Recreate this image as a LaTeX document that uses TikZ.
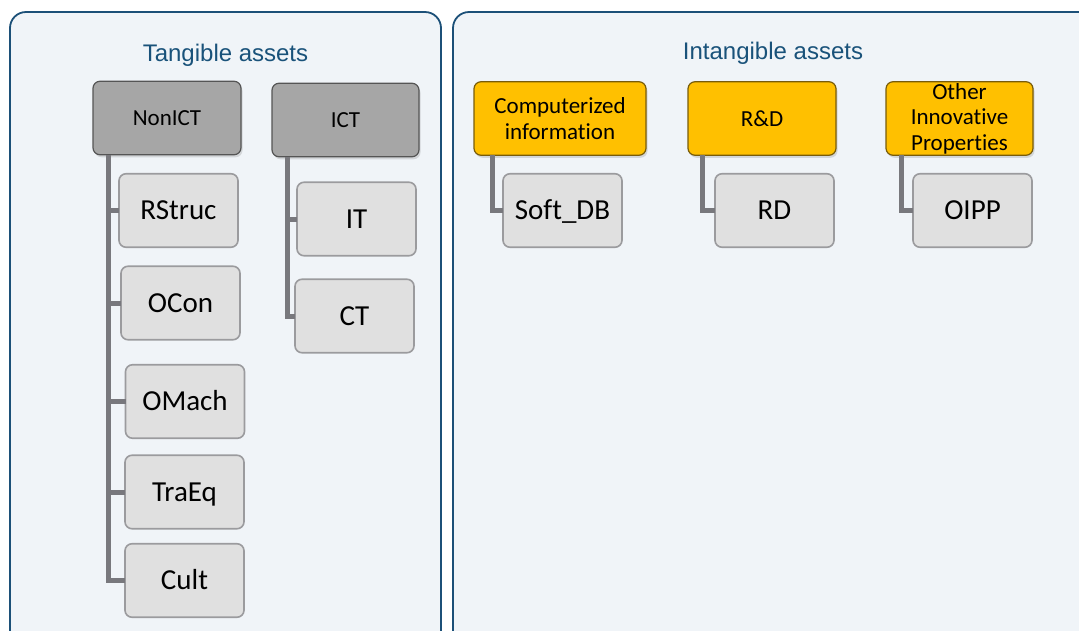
\documentclass[tikz,border=0pt]{standalone}
\usepackage{fontspec}
\setmainfont{Carlito}[Ligatures=NoCommon]
\newfontfamily\titlefont{Liberation Sans}
\usetikzlibrary{shadows}

\definecolor{panelfill}{RGB}{240,244,248}
\definecolor{panelline}{RGB}{28,80,120}
\definecolor{titleblue}{RGB}{25,82,122}
\definecolor{parentgray}{RGB}{166,166,166}
\definecolor{parentline}{RGB}{85,85,85}
\definecolor{gold}{RGB}{255,192,0}
\definecolor{goldline}{RGB}{120,92,10}
\definecolor{childfill}{RGB}{224,224,224}
\definecolor{childline}{RGB}{155,155,158}
\definecolor{connector}{RGB}{120,120,125}

\begin{document}
\begin{tikzpicture}[x=1pt,y=-1pt,
  panel/.style={draw=panelline, line width=1.8pt, fill=panelfill, rounded corners=16pt},
  paneltitle/.style={font=\titlefont\fontsize{24}{28}\selectfont, text=titleblue, anchor=base},
  box/.style={rectangle, rounded corners=7pt, inner sep=0pt, outer sep=0pt,
    minimum height=73.5pt},
  topbox/.style={box, line width=1.2pt, align=center,
    font=\fontsize{23}{25.5}\selectfont,
    drop shadow={shadow xshift=1.5pt, shadow yshift=-2.5pt, opacity=0.25}},
  ictbox/.style={topbox, fill=parentgray, draw=parentline, text height=15pt, text depth=0pt},
  intbox/.style={topbox, fill=gold, draw=goldline},
  leaf/.style={box, fill=childfill, draw=childline, line width=1.6pt, minimum width=119pt,
    font=\fontsize{29}{32}\selectfont, text height=18.7pt, text depth=0pt},
  conn/.style={draw=connector, line width=5pt}
]
\useasboundingbox (0,0) rectangle (1079,630);
\clip (0,0) rectangle (1079,630);
\fill[white] (0,0) rectangle (1079,630);

% panels
\draw[panel] (10,12) rectangle (441,650);
\draw[panel] (453,12) rectangle (1110,650);

\node[paneltitle] (tangtitle) at (225.5,61) {Tangible assets};
\node[paneltitle] (intangtitle) at (773,59) {Intangible assets};

% tangible assets
\node[ictbox, minimum width=148pt] (nonict) at (167,118) {NonICT};
\node[ictbox, minimum width=147pt] (ict) at (345.5,120) {ICT};

\node[leaf] (rstruc) at (178.5,210.5) {RStruc};
\node[leaf] (ocon)   at (180.5,303)   {OCon};
\node[leaf] (omach)  at (185,401.5)   {OMach};
\node[leaf] (traeq)  at (184.5,492)   {TraEq};
\node[leaf] (cult)   at (184.5,580.5) {Cult};

\node[leaf] (it) at (356.5,219) {IT};
\node[leaf] (ct) at (354.5,316) {CT};

% intangible assets
\node[intbox, minimum width=172pt] (comp) at (560,118.5) {Computerized\\information};
\node[intbox, minimum width=148pt] (rnd)  at (762,118.5) {R\&D};
\node[intbox, minimum width=147pt] (oip)  at (959.5,118.5) {Other\\Innovative\\Properties};

\node[leaf] (soft) at (562.5,210.5) {Soft\_DB};
\node[leaf] (rd)   at (774.5,210.5) {RD};
\node[leaf] (oipp) at (972.5,210.5) {OIPP};

% connectors
\draw[conn] ([xshift=15pt]nonict.south west) |- (rstruc.west);
\draw[conn] ([xshift=15pt]nonict.south west) |- (ocon.west);
\draw[conn] ([xshift=15pt]nonict.south west) |- (omach.west);
\draw[conn] ([xshift=15pt]nonict.south west) |- (traeq.west);
\draw[conn] ([xshift=15pt]nonict.south west) |- (cult.west);

\draw[conn] ([xshift=15pt]ict.south west) |- (it.west);
\draw[conn] ([xshift=15pt]ict.south west) |- (ct.west);

\draw[conn] ([xshift=18pt]comp.south west) |- (soft.west);
\draw[conn] ([xshift=14pt]rnd.south west) |- (rd.west);
\draw[conn] ([xshift=15pt]oip.south west) |- (oipp.west);
\end{tikzpicture}
\end{document}
